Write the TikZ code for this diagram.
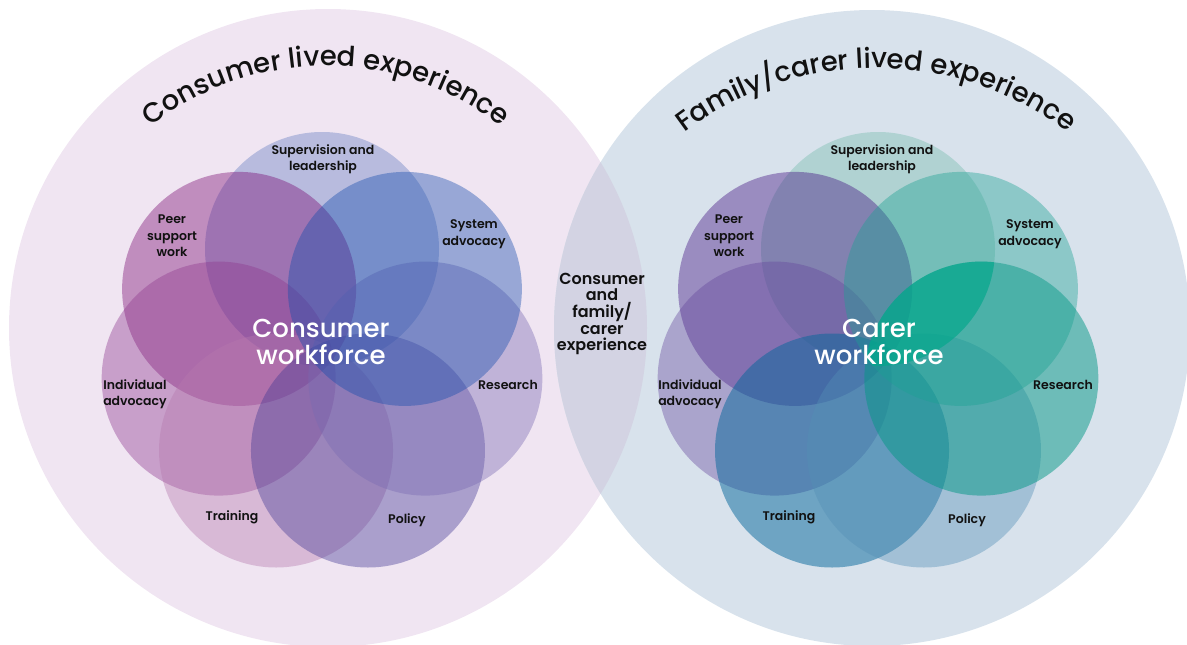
\documentclass[tikz,border=0pt]{standalone}
\usepackage{fontspec}
\setmainfont{Poppins}[UprightFont=* Medium, BoldFont=* SemiBold]
\usetikzlibrary{decorations.text}
\definecolor{bgL}{RGB}{240,229,242}
\definecolor{bgR}{RGB}{216,226,236}
\definecolor{bgO}{RGB}{211,211,227}
\definecolor{supL}{RGB}{100,126,194}
\definecolor{peerL}{RGB}{120,9,114}
\definecolor{sysL}{RGB}{20,76,172}
\definecolor{indL}{RGB}{142,56,142}
\definecolor{resL}{RGB}{120,106,177}
\definecolor{trainL}{RGB}{182,121,174}
\definecolor{polL}{RGB}{65,56,147}
\definecolor{supR}{RGB}{116,188,173}
\definecolor{peerR}{RGB}{61,11,126}
\definecolor{sysR}{RGB}{26,161,146}
\definecolor{indR}{RGB}{101,71,156}
\definecolor{resR}{RGB}{4,152,134}
\definecolor{trainR}{RGB}{6,104,156}
\definecolor{polR}{RGB}{83,143,181}
\definecolor{tealB}{RGB}{0,170,140}
\definecolor{ink}{RGB}{17,17,17}
\newfontfamily\titlefont{Poppins}[UprightFont=* Medium]
\tikzset{
  petal/.style={fill=#1},
  lab/.style={font=\fontsize{12.5}{16.5}\selectfont\bfseries, align=center, text=ink, inner sep=0pt},
  midlab/.style={font=\fontsize{16}{16.7}\selectfont\bfseries, align=center, text=ink, inner sep=0pt},
  biglab/.style={font=\fontsize{26}{27}\selectfont, align=center, text=white, inner sep=0pt},
  arctitle/.style={decorate, decoration={text along path, text align=center, text color=ink, text={|\fontsize{27.5}{30}\titlefont|#1}}}
}
\begin{document}
\begin{tikzpicture}[x=1pt,y=1pt]
\useasboundingbox (0,0) rectangle (1187,-645);
\coordinate (lbig) at (328,-328);
\coordinate (rbig) at (872,-328);
\coordinate (lc) at (322,-355);
\coordinate (rc) at (878,-355);
\coordinate (ltc) at (326,-351);
\coordinate (rtc) at (876,-386);
\begin{scope}
  \clip (0,0) rectangle (1187,-645);
  \fill[bgL] (lbig) circle (319);
  \fill[bgR] (rbig) circle (318);
  \begin{scope}
    \clip (lbig) circle (319);
    \fill[bgO] (rbig) circle (318);
  \end{scope}
\end{scope}
% left flower
\foreach \ang/\col/\op in {90/supL/0.4, 141.43/peerL/0.4, 192.86/indL/0.4, 244.29/trainL/0.4, 295.71/polL/0.4, 347.14/resL/0.4, 38.57/sysL/0.4}
  \fill[petal=\col, fill opacity=\op] (lc) ++(\ang:106) circle (117);
% right flower
\foreach \ang/\col/\op in {90/supR/0.4, 141.43/peerR/0.4, 192.86/indR/0.4, 244.29/trainR/0.5, 295.71/polR/0.4, 347.14/resR/0.5, 38.57/sysR/0.4}
  \fill[petal=\col, fill opacity=\op] (rc) ++(\ang:106) circle (117);
% deeper teal where supervision, system advocacy and research overlap
\begin{scope}
  \clip (rc) ++(38.57:106) circle (117);
  \clip (rc) ++(90:106) circle (117);
  \fill[tealB, fill opacity=0.6] (rc) ++(347.14:106) circle (117);
\end{scope}
% titles
\path[arctitle={Consumer lived experience}] (ltc) ++(150:285) arc[start angle=150, end angle=30, radius=285];
\path[arctitle={Family/carer lived experience}] (rtc) ++(145:318) arc[start angle=145, end angle=35, radius=318];
% left labels
\node[lab] (lsup) at (323,-159) {Supervision and\\leadership};
\node[lab] (lpeer) at (172,-236) {Peer\\support\\work};
\node[lab] (lsys) at (474,-234) {System\\advocacy};
\node[lab] (lind) at (135,-394) {Individual\\advocacy};
\node[lab] (lres) at (508,-385) {Research};
\node[lab] (ltrain) at (232,-517) {Training};
\node[lab] (lpol) at (407,-520) {Policy};
\node[biglab] (lcore) at (321,-342) {Consumer\\workforce};
% right labels
\node[lab] (rsup) at (882,-159) {Supervision and\\leadership};
\node[lab] (rpeer) at (729,-236) {Peer\\support\\work};
\node[lab] (rsys) at (1030,-234) {System\\advocacy};
\node[lab] (rind) at (690,-394) {Individual\\advocacy};
\node[lab] (rres) at (1063,-385) {Research};
\node[lab] (rtrain) at (789,-517) {Training};
\node[lab] (rpol) at (967,-520) {Policy};
\node[biglab] (rcore) at (879,-342) {Carer\\workforce};
% middle
\node[midlab] (mid) at (602,-314) {Consumer\\and\\family/\\carer\\experience};
\end{tikzpicture}
\end{document}
